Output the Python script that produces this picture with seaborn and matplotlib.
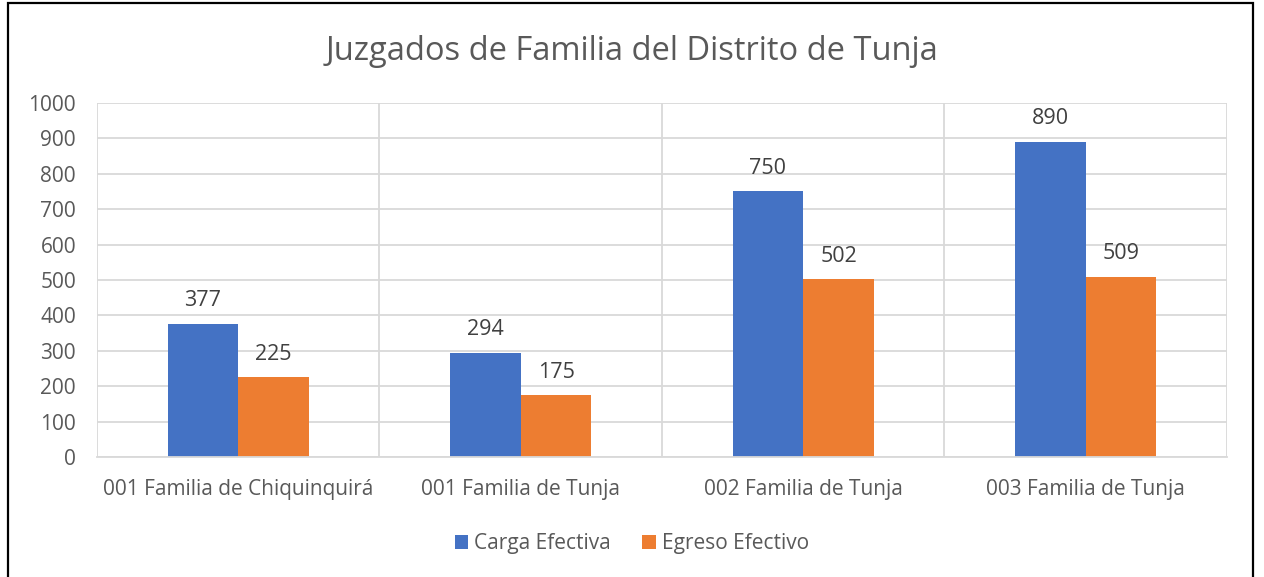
import matplotlib.pyplot as plt
import pandas as pd
import seaborn as sns
from matplotlib.patches import Rectangle
from matplotlib.ticker import FixedLocator

juzgados = ["001 Familia de Chiquinquirá", "001 Familia de Tunja",
            "002 Familia de Tunja", "003 Familia de Tunja"]
carga = [377, 294, 750, 890]
egreso = [225, 175, 502, 509]
series = ["Carga Efectiva", "Egreso Efectivo"]

df = pd.DataFrame({
    "juzgado": juzgados * 2,
    "serie": [series[0]] * 4 + [series[1]] * 4,
    "valor": carga + egreso,
})

sns.set_theme(style="white")
plt.rcParams["font.family"] = ["Open Sans", "DejaVu Sans"]
grey = "#595959"

fig = plt.figure(figsize=(12.64, 5.77), dpi=100)
ax = fig.add_axes([0.0767, 0.208, 0.894, 0.6135])

sns.barplot(data=df, x="juzgado", y="valor", hue="serie",
            palette=["#4472C4", "#ED7D31"], width=0.5, gap=0,
            saturation=1, linewidth=0, ax=ax, legend=True)

for c in ax.containers:
    ax.bar_label(c, padding=9, fontsize=15.5, color="#404040")

ax.set_xlim(-0.5, 3.5)
ax.set_ylim(0, 1000)
ax.set_yticks(range(0, 1001, 100))
ax.xaxis.set_minor_locator(FixedLocator([-0.5, 0.5, 1.5, 2.5, 3.5]))
ax.grid(True, axis="y", color="#d9d9d9", linewidth=1.3)
ax.grid(True, axis="x", which="minor", color="#d9d9d9", linewidth=1.3)
ax.set_axisbelow(True)
for s in ["top", "right", "left"]:
    ax.spines[s].set_visible(False)
ax.spines["bottom"].set_color("#d9d9d9")
ax.spines["bottom"].set_linewidth(1.3)
ax.tick_params(axis="both", which="both", length=0, labelsize=15, colors=grey)
ax.tick_params(axis="x", pad=16)
ax.tick_params(axis="y", pad=15)
ax.set_xlabel("")
ax.set_ylabel("")

handles, labels = ax.get_legend_handles_labels()
ax.get_legend().remove()
fig.legend(handles, labels, loc="center", bbox_to_anchor=(0.5, 1 - 544 / 577),
           ncol=2, frameon=False, fontsize=15, labelcolor=grey,
           handlelength=0.65, handleheight=0.65, handletextpad=0.3, columnspacing=1.5)

fig.text(0.5, 1 - 51 / 577, "Juzgados de Familia del Distrito de Tunja",
         ha="center", va="center", fontsize=23.5, color=grey)

fig.patches.append(Rectangle((8 / 1264, -0.02), 1245 / 1264, 1.02 - 3 / 577,
                             transform=fig.transFigure, fill=False,
                             edgecolor="black", linewidth=1.6))

fig.savefig("out.png", dpi=100)
